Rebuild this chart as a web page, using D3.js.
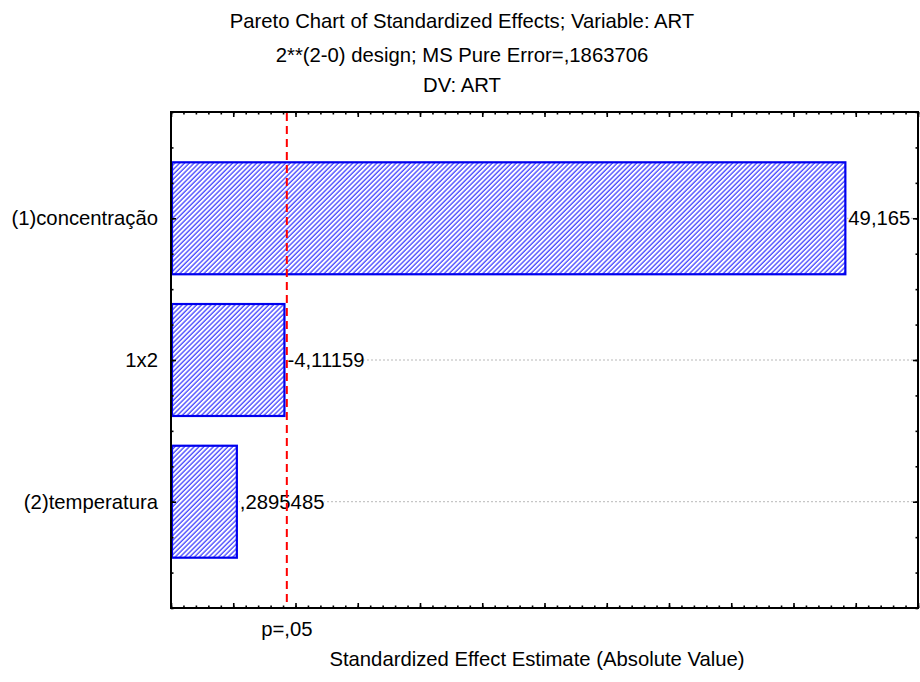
<!DOCTYPE html>
<html><head><meta charset="utf-8">
<script src="https://cdn.jsdelivr.net/npm/d3@7"></script>
<style>
body{margin:0;background:#fff}
svg{display:block;font-family:"Liberation Sans",Arial,sans-serif}
</style>
</head><body>
<svg id="c" width="920" height="682"></svg>
<script>
// ---- data ----
const categories = ["(1)concentração", "1x2", "(2)temperatura"];
const effects = [49.165, -4.11159, 0.2895485];
const valueLabels = ["49,165", "-4,11159", ",2895485"];
const criticalValue = 4.303;
const criticalLabel = "p=,05";
const titleLines = ["Pareto Chart of Standardized Effects; Variable: ART",
                    "2**(2-0) design; MS Pure Error=,1863706",
                    "DV: ART"];
const xTitle = "Standardized Effect Estimate (Absolute Value)";
const xDomain = [-5, 55];
const xMajorTicks = d3.range(-5, 56, 5);
const xMinorTicks = d3.range(-5, 56, 1);
const yDomain = [0.25, 3.75];
const yMajorTicks = [1, 2, 3];
const yMinorTicks = d3.range(0.25, 3.76, 0.25);

// ---- layout ----
const svg = d3.select("#c");
const FS = 20.3;
const L = 171, R = 918, T = 112, B = 608;
const x = d3.scaleLinear().domain(xDomain).range([L, R]);
const y = d3.scaleLinear().domain(yDomain).range([T, B]);
const barH = y(1.79) - y(1.0);

const defs = svg.append("defs");
const pat = defs.append("pattern").attr("id", "hatch")
  .attr("patternUnits", "userSpaceOnUse").attr("width", 3.4).attr("height", 3.4)
  .attr("patternTransform", "rotate(45)");
pat.append("rect").attr("width", 3.4).attr("height", 3.4).attr("fill", "#ffffff");
pat.append("line").attr("x1", 1).attr("x2", 1).attr("y1", 0).attr("y2", 3.4)
  .attr("stroke", "#4848ff").attr("stroke-width", 1.35);

// titles
svg.append("g").selectAll("text").data(titleLines).join("text")
  .attr("x", 462).attr("y", (d, i) => [28, 62, 92][i])
  .attr("text-anchor", "middle").attr("font-size", FS).attr("fill", "#000")
  .text(d => d);

// gridlines
svg.append("g").selectAll("line").data(categories).join("line")
  .attr("x1", L).attr("x2", R)
  .attr("y1", (d, i) => y(i + 1)).attr("y2", (d, i) => y(i + 1))
  .attr("stroke", "#b8b8b8").attr("stroke-width", 1).attr("stroke-dasharray", "2,2");

// bars
svg.append("g").selectAll("rect").data(effects).join("rect")
  .attr("x", x(xDomain[0]) + 1)
  .attr("y", (d, i) => y(i + 1) - barH / 2)
  .attr("width", d => x(Math.abs(d)) - x(xDomain[0]) - 1)
  .attr("height", barH)
  .attr("fill", "url(#hatch)").attr("stroke", "#0000ee").attr("stroke-width", 2.2);

// value labels
const lab = svg.append("g").selectAll("g").data(effects).join("g");
lab.each(function (d, i) {
  const g = d3.select(this);
  const t = g.append("text")
    .attr("x", x(Math.abs(d)) + 3).attr("y", y(i + 1)).attr("dy", "0.35em")
    .attr("font-size", FS).attr("fill", "#000").text(valueLabels[i]);
  const bb = t.node().getBBox();
  g.insert("rect", "text").attr("x", bb.x).attr("y", y(i + 1) - 2)
    .attr("width", bb.width).attr("height", 4).attr("fill", "#fff");
});

// axes (ticks inward)
function ticks(axisFn, vals, size, transform) {
  const g = svg.append("g").attr("transform", transform)
    .call(axisFn.tickValues(vals).tickSize(size).tickFormat(""));
  g.select(".domain").remove();
  g.selectAll("line").attr("stroke", "#000").attr("stroke-width", 1.6);
}
ticks(d3.axisBottom(x), xMinorTicks, -2.5, `translate(0,${B})`);
ticks(d3.axisBottom(x), xMajorTicks, -5, `translate(0,${B})`);
ticks(d3.axisTop(x), xMinorTicks, -2.5, `translate(0,${T})`);
ticks(d3.axisTop(x), xMajorTicks, -5, `translate(0,${T})`);
ticks(d3.axisLeft(y), yMinorTicks, -2.5, `translate(${L},0)`);
ticks(d3.axisLeft(y), yMajorTicks, -5, `translate(${L},0)`);
ticks(d3.axisRight(y), yMinorTicks, -2.5, `translate(${R},0)`);
ticks(d3.axisRight(y), yMajorTicks, -5, `translate(${R},0)`);

// frame
svg.append("rect").attr("x", L).attr("y", T).attr("width", R - L).attr("height", B - T)
  .attr("fill", "none").attr("stroke", "#000").attr("stroke-width", 2);

// critical line
svg.append("line").attr("x1", x(criticalValue)).attr("x2", x(criticalValue))
  .attr("y1", T + 1).attr("y2", B - 1)
  .attr("stroke", "#ff0000").attr("stroke-width", 2).attr("stroke-dasharray", "8,5");

// category labels
svg.append("g").selectAll("text").data(categories).join("text")
  .attr("x", 158).attr("y", (d, i) => y(i + 1)).attr("dy", "0.35em")
  .attr("text-anchor", "end").attr("font-size", FS).attr("fill", "#000")
  .text(d => d);

// p label
svg.append("text").attr("x", x(criticalValue)).attr("y", 636)
  .attr("text-anchor", "middle").attr("font-size", FS).text(criticalLabel);

// x title
svg.append("text").attr("x", 537).attr("y", 666)
  .attr("text-anchor", "middle").attr("font-size", FS).text(xTitle);
</script>
</body></html>
